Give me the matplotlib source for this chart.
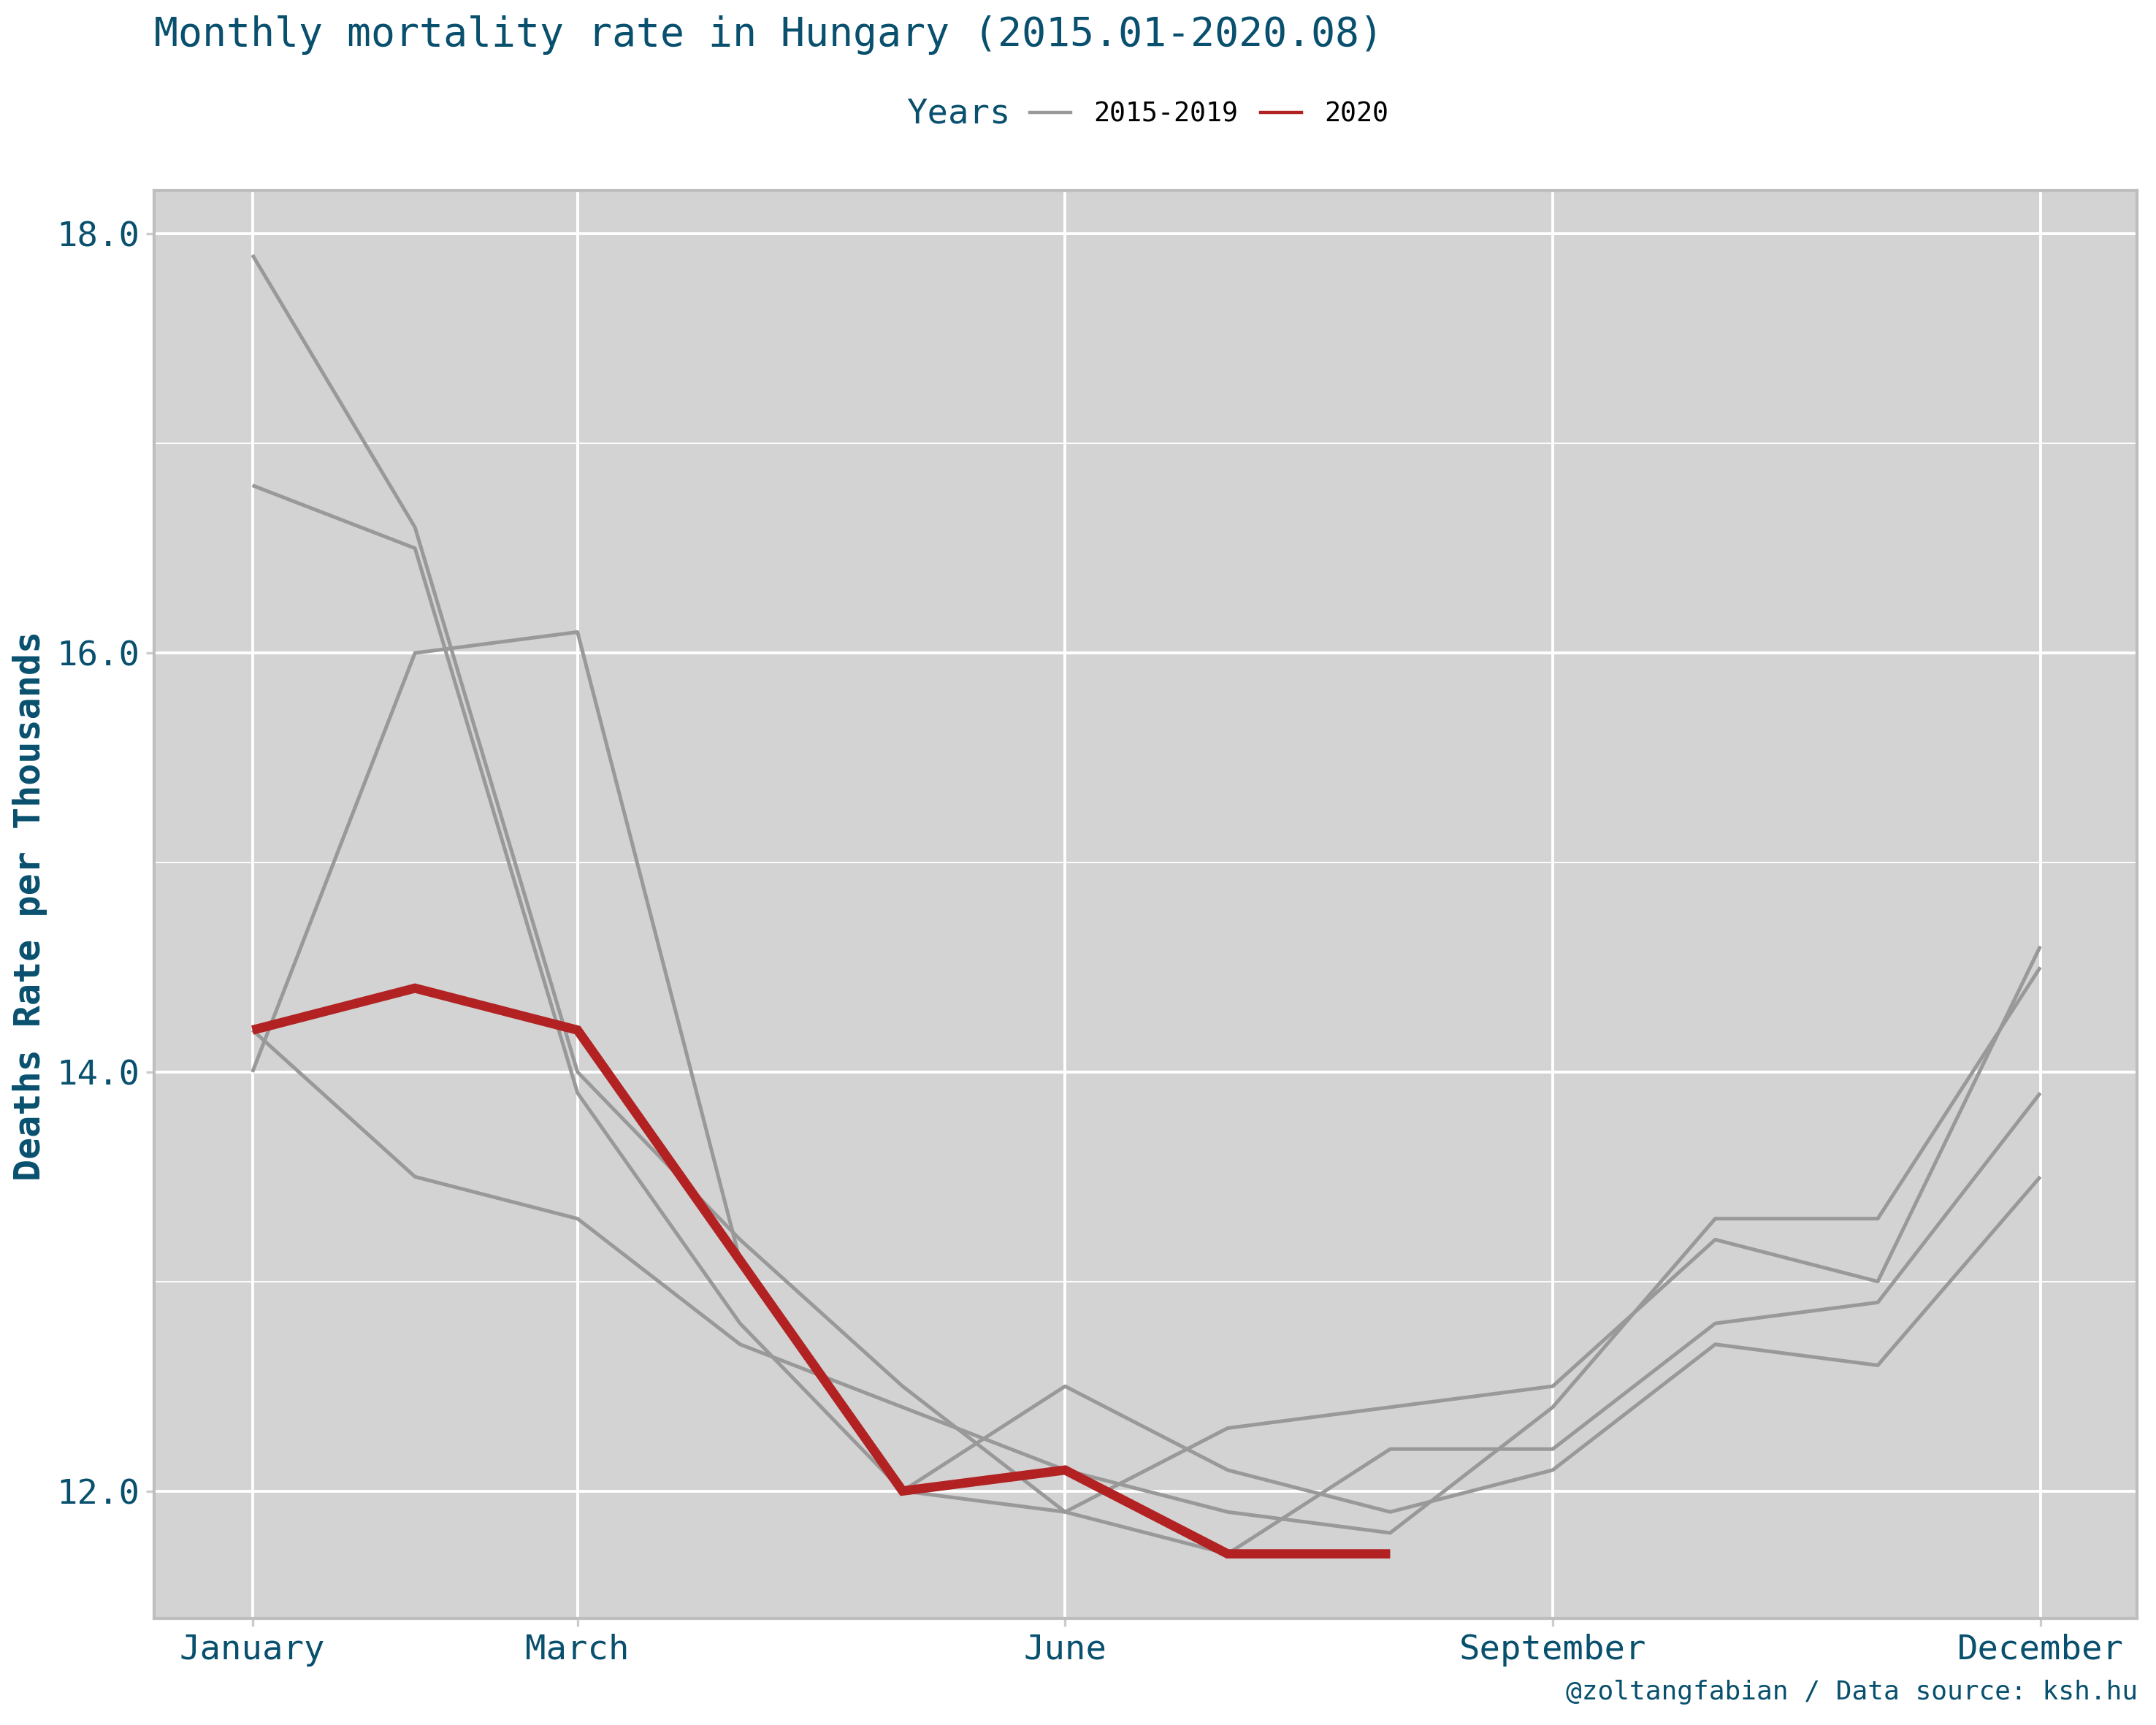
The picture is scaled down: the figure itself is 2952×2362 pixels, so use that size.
import matplotlib
matplotlib.use("Agg")
import matplotlib.pyplot as plt
from matplotlib.lines import Line2D

# monthly death rate per thousand
months = [1, 2, 3, 4, 5, 6, 7, 8, 9, 10, 11, 12]
month_ticks = [1, 3, 6, 9, 12]
month_labels = ['January', 'March', 'June', 'September', 'December']

rate_a = [17.9, 16.6, 14.0, 13.2, 12.5, 11.9, 12.3, 12.4, 12.5, 13.2, 13.0, 14.6]
rate_b = [16.8, 16.5, 13.9, 12.8, 12.0, 12.5, 12.1, 11.9, 12.1, 12.7, 12.6, 13.5]
rate_c = [14.0, 16.0, 16.1, 13.1, 12.0, 11.9, 11.7, 12.2, 12.2, 12.8, 12.9, 13.9]
rate_d = [14.2, 13.5, 13.3, 12.7, 12.4, 12.1, 11.9, 11.8, 12.4, 13.3, 13.3, 14.5]
past_years = [rate_a, rate_b, rate_c, rate_d]

months_2020 = [1, 2, 3, 4, 5, 6, 7, 8]
rate_2020 = [14.2, 14.4, 14.2, 13.1, 12.0, 12.1, 11.7, 11.7]

txt_col = '#08506E'
grey_col = '#999999'
red_col = '#B22222'

plt.rcParams['font.family'] = ['DejaVu Sans Mono', 'DejaVu Sans']

W, H = 2952, 2362
fig = plt.figure(figsize=(W / 200, H / 200), dpi=200)
ax = fig.add_axes([211 / W, 1 - 2216 / H, (2926 - 211) / W, (2216 - 261) / H])
ax.set_facecolor('#D3D3D3')

# grid
ax.set_yticks([12, 14, 16, 18])
ax.set_yticks([13, 15, 17], minor=True)
ax.set_yticklabels(['12.0', '14.0', '16.0', '18.0'])
ax.set_xticks(month_ticks)
ax.set_xticklabels(month_labels)
ax.grid(which='major', color='white', linewidth=1.4)
ax.grid(which='minor', axis='y', color='white', linewidth=0.7)
ax.set_axisbelow(True)

for r in past_years:
    ax.plot(months, r, color=grey_col, linewidth=1.8, solid_capstyle='butt')
ax.plot(months_2020, rate_2020, color=red_col, linewidth=4.6,
        solid_capstyle='butt', solid_joinstyle='miter')

ax.set_xlim(0.395, 12.595)
ax.set_ylim(11.392, 18.207)

ax.tick_params(which='major', length=4, width=1.2, color='#CCCCCC',
               labelsize=17, labelcolor=txt_col)
ax.tick_params(axis='x', pad=3.5)
ax.tick_params(axis='y', pad=3)
ax.tick_params(which='minor', length=0)
for s in ax.spines.values():
    s.set_color('#BEBEBE')
    s.set_linewidth(1.5)

# titles and labels
fig.text(211 / W, 1 - 63 / H, 'Monthly mortality rate in Hungary (2015.01-2020.08)',
         fontsize=19.75, color=txt_col, va='baseline', ha='left')
fig.text(41 / W, 1 - 1240 / H, 'Deaths Rate per Thousands', rotation=90,
         fontsize=18, fontweight='bold', color=txt_col, va='center', ha='center')
fig.text(2927 / W, 1 - 2327 / H, '@zoltangfabian / Data source: ksh.hu',
         fontsize=13, color=txt_col, va='baseline', ha='right')

# legend
fig.text(1241 / W, 1 - 156 / H, 'Years', fontsize=17, color=txt_col,
         va='center', ha='left')
handles = [Line2D([], [], color=grey_col, linewidth=1.6),
           Line2D([], [], color=red_col, linewidth=1.6)]
fig.legend(handles, ['2015-2019', '2020'], loc='center left',
           bbox_to_anchor=(1410 / W, 1 - 156 / H), ncol=2, frameon=False,
           fontsize=13.2, handlelength=1.52, handletextpad=0.85,
           columnspacing=0.85, borderpad=0, borderaxespad=0)

fig.savefig('out.png', dpi=200, facecolor='white')
